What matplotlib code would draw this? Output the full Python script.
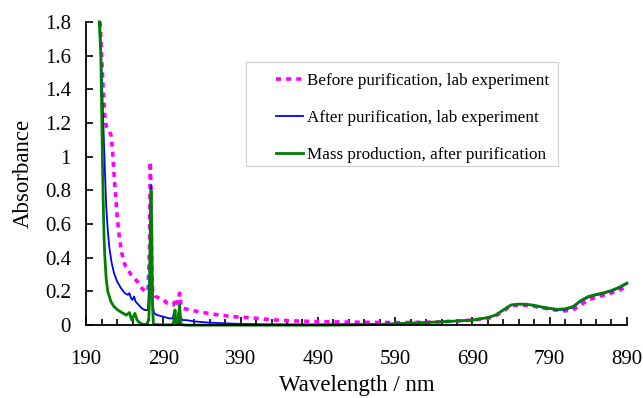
import numpy as np
import matplotlib.pyplot as plt
from matplotlib.patches import Rectangle
from matplotlib.ticker import FixedLocator, MultipleLocator

plt.rcParams['font.family'] = ['Liberation Serif', 'DejaVu Serif']

# before purification, lab experiment
wl_before = [208, 210, 212, 214, 216, 218, 220, 222, 224, 226, 228, 230, 233, 236, 240, 244, 248, 252,
             256, 260, 264, 268, 270, 272, 273, 274, 275, 276, 278, 280, 285, 290, 295, 300, 303, 306,
             308, 311, 313, 316, 320, 330, 345, 360, 380, 400, 430, 460, 500, 550, 600, 650, 690, 710,
             720, 730, 740, 750, 760, 770, 780, 790, 800, 810, 820, 830, 840, 850, 860, 870, 880, 890]
abs_before = [1.8, 1.6, 1.4, 1.25, 1.18, 1.16, 1.15, 1.13, 1.05, 0.9, 0.78, 0.65, 0.52, 0.43, 0.36, 0.33, 0.3, 0.28,
              0.26, 0.23, 0.21, 0.2, 0.2, 0.45, 0.97, 0.8, 0.35, 0.2, 0.19, 0.17, 0.16, 0.15, 0.13, 0.12, 0.12, 0.16,
              0.13, 0.19, 0.11, 0.1, 0.095, 0.085, 0.072, 0.062, 0.05, 0.045, 0.032, 0.025, 0.02, 0.017, 0.015, 0.02, 0.03, 0.04,
              0.055, 0.085, 0.115, 0.12, 0.118, 0.112, 0.103, 0.095, 0.088, 0.085, 0.09, 0.12, 0.15, 0.165, 0.178, 0.192, 0.205, 0.235]

# after purification, lab experiment
wl_after = [208, 210, 212, 214, 216, 218, 220, 223, 226, 230, 235, 240, 244, 246, 248, 250, 252, 254, 258,
            262, 266, 270, 272, 273, 274, 275, 276, 278, 282, 290, 298, 302, 304, 305, 306, 308, 310, 311,
            312, 313, 315, 320, 330, 350, 380, 420, 480, 560, 600, 650, 690, 710, 720, 730, 740, 750, 760,
            770, 780, 790, 800, 810, 820, 830, 840, 850, 860, 870, 880, 890]
abs_after = [1.8, 1.5, 1.22, 0.95, 0.7, 0.56, 0.46, 0.37, 0.31, 0.26, 0.22, 0.19, 0.18, 0.19, 0.16, 0.15, 0.17, 0.14, 0.12,
             0.1, 0.09, 0.09, 0.3, 0.6, 0.83, 0.4, 0.12, 0.07, 0.06, 0.05, 0.04, 0.04, 0.08, 0.05, 0.03, 0.04, 0.08, 0.12,
             0.05, 0.04, 0.03, 0.03, 0.022, 0.015, 0.009, 0.005, 0.004, 0.006, 0.01, 0.02, 0.03, 0.045, 0.06, 0.09, 0.12, 0.124, 0.122,
             0.115, 0.105, 0.097, 0.09, 0.092, 0.105, 0.14, 0.165, 0.178, 0.188, 0.202, 0.22, 0.245]

# mass production, after purification
wl_mass = [207, 209, 210, 211, 212, 213, 214, 216, 218, 222, 226, 231, 236, 242, 246, 249, 253, 256, 259,
           263, 268, 271, 272, 273, 274, 275, 276, 277, 280, 290, 300, 303, 305, 306, 307, 309, 311, 312,
           313, 315, 320, 400, 500, 560, 600, 650, 690, 710, 720, 730, 740, 750, 760, 770, 780, 790, 800,
           810, 820, 830, 840, 850, 860, 870, 880, 890]
abs_mass = [1.8, 1.6, 1.3, 1.0, 0.75, 0.55, 0.42, 0.27, 0.2, 0.14, 0.11, 0.09, 0.075, 0.06, 0.075, 0.03, 0.07, 0.03, 0.015,
            0.005, 0.003, 0.03, 0.15, 0.6, 0.8, 0.5, 0.1, 0.01, 0.003, 0.002, 0.002, 0.01, 0.09, 0.03, 0.01, 0.03, 0.12, 0.03,
            0.005, 0.002, 0.0, 0.0, 0.0, 0.003, 0.01, 0.02, 0.03, 0.045, 0.06, 0.09, 0.12, 0.125, 0.124, 0.118, 0.108, 0.1, 0.094,
            0.097, 0.11, 0.145, 0.17, 0.182, 0.192, 0.206, 0.225, 0.25]

x_major = np.arange(190, 891, 100)
x_minor = np.arange(190, 891, 20)

fig = plt.figure(figsize=(6.43, 3.98), dpi=100)
ax = fig.add_axes([0.134, 0.183, 0.841, 0.762])

ax.plot(wl_before, abs_before, color='#ff00ff', lw=2.6, linestyle=(0, (1.4, 1.4)),
        label='Before purification, lab experiment', clip_on=False)
ax.plot(wl_after, abs_after, color='#0000ff', lw=1.3,
        label='After purification, lab experiment', clip_on=False)
ax.plot(wl_mass, abs_mass, color='#008000', lw=2.0,
        label='Mass production, after purification', clip_on=False)

ax.set_xlim(190, 890)
ax.set_ylim(0, 1.8)
ax.xaxis.set_major_locator(FixedLocator(x_major))
ax.xaxis.set_minor_locator(FixedLocator(x_minor))
ax.yaxis.set_major_locator(MultipleLocator(0.2))
ax.yaxis.set_major_formatter(plt.FuncFormatter(lambda v, p: f'{v:.1f}'.rstrip('0').rstrip('.') if v else '0'))

ax.tick_params(axis='both', which='both', direction='in', labelsize=15, width=1.2)
ax.tick_params(axis='x', which='major', length=6, pad=18)
ax.tick_params(axis='x', which='minor', length=4)
ax.tick_params(axis='y', which='major', length=5, pad=11)

for s in ['top', 'right']:
    ax.spines[s].set_visible(False)
for s in ['left', 'bottom']:
    ax.spines[s].set_linewidth(1.3)

ax.set_xlabel('Wavelength / nm', fontsize=16.5, labelpad=4)
ax.set_ylabel('Absorbance', fontsize=16.5, labelpad=8)

# legend frame drawn separately (text sits off-centre in the box)
fig.patches.append(Rectangle((246 / 643, 1 - 166 / 398), 312 / 643, 104 / 398,
                             transform=fig.transFigure, fill=False, edgecolor='#d0d0d0', lw=0.8))
ax.legend(loc='upper left', bbox_to_anchor=(276 / 643, 1 - 73 / 398), bbox_transform=fig.transFigure,
          fontsize=12.3, frameon=False, handlelength=1.58, handletextpad=0.23,
          labelspacing=1.22, borderpad=0, borderaxespad=0)

plt.savefig('out.png', dpi=100)
